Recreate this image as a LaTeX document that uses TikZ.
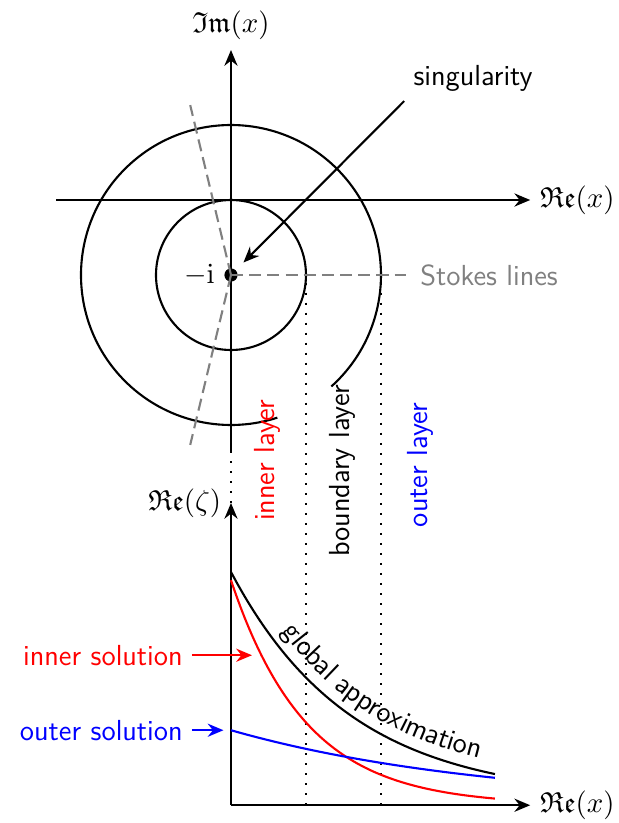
\documentclass[tikz,border=0pt]{standalone}
\usepackage{amsmath,amssymb}
\usepackage{tikz}
\usetikzlibrary{arrows.meta,decorations.text}
\definecolor{Stokes}{HTML}{808080}

\begin{document}
\begin{tikzpicture}[x=1cm,y=1cm,font=\sffamily\fontsize{11}{13}\selectfont,
    >={Stealth[length=6pt,width=5pt,inset=2pt]},
    ax/.style={->,thick},
    stokes/.style={thick,Stokes,dash pattern=on 4.6pt off 2.3pt},
    layer/.style={line width=.8pt,dash pattern=on .8pt off 3pt}]
  \useasboundingbox(-3.08,-8.307)rectangle(5.173,2.667);
  % complex plane
  \draw[ax](-2.33,0)--(3.99,0)node[right](rex){$\mathfrak{Re}(x)$};
  \draw[ax](0,-3.35)--(0,2.0)node[above](imx){$\mathfrak{Im}(x)$};
  \draw[thick](0,-1)circle(1);
  \draw[thick](0,-1)++(-48:2)arc(-48:288:2);
  \node[circle,fill,inner sep=0pt,minimum size=5pt](s)at(0,-1){};
  \node[left](mi)at(s.west){$-\mathrm{i}$};
  \draw[stokes](s.center)--++(0:2.33);
  \draw[stokes](s.center)--++(103.5:2.33);
  \draw[stokes](s.center)--++(-103.5:2.33);
  \node[right,Stokes](stk)at(2.4,-1){Stokes lines};
  \node[anchor=south west](sing)at(2.31,1.32){singularity};
  \draw[->,thick,shorten >=4pt](sing.south west)--(s);
  % layers
  \draw[layer](0,-3.35)--(0,-4.04);
  \draw[layer](1,-1.1)--(1,-8.07);
  \draw[layer](2,-1.1)--(2,-8.07);
  \node[rotate=90,red](inl)at(0.49,-3.47){inner layer};
  \node[rotate=90](bdl)at(1.49,-3.61){boundary layer};
  \node[rotate=90,blue](oul)at(2.52,-3.53){outer layer};
  % solutions
  \draw[ax](0,-8.07)--(0,-4.04)node[left](rez){$\mathfrak{Re}(\zeta)$};
  \draw[ax](0,-8.07)--(3.99,-8.07)node[right](rex2){$\mathfrak{Re}(x)$};
  \draw[thick,red,domain=0:3.52,samples=60,smooth]plot(\x,{-8.07+3*exp(-\x)});
  \draw[thick,blue,domain=0:3.52,samples=60,smooth]plot(\x,{-8.07+exp(-\x/3.5)});
  \draw[thick,domain=0:3.52,samples=60,smooth]plot(\x,{-8.07+3.03*exp(-\x/1.6)+0.08});
  \path[decorate,decoration={text along path,raise=4.5pt,text align={left indent=1.05cm},
      text={|\sffamily\fontsize{11}{13}\selectfont|global approximation}}]
    [domain=0:3.52,samples=25]plot(\x,{-8.07+3.03*exp(-\x/1.6)+0.08});
  \coordinate(ri)at(0.28,-6.07);
  \coordinate(bo)at(-0.1,-7.07);
  \node[left,red](insol)at(-0.52,-6.07){inner solution};
  \node[left,blue](outsol)at(-0.52,-7.07){outer solution};
  \draw[->,thick,red](insol)--(ri);
  \draw[->,thick,blue](outsol)--(bo);
\end{tikzpicture}
\end{document}
